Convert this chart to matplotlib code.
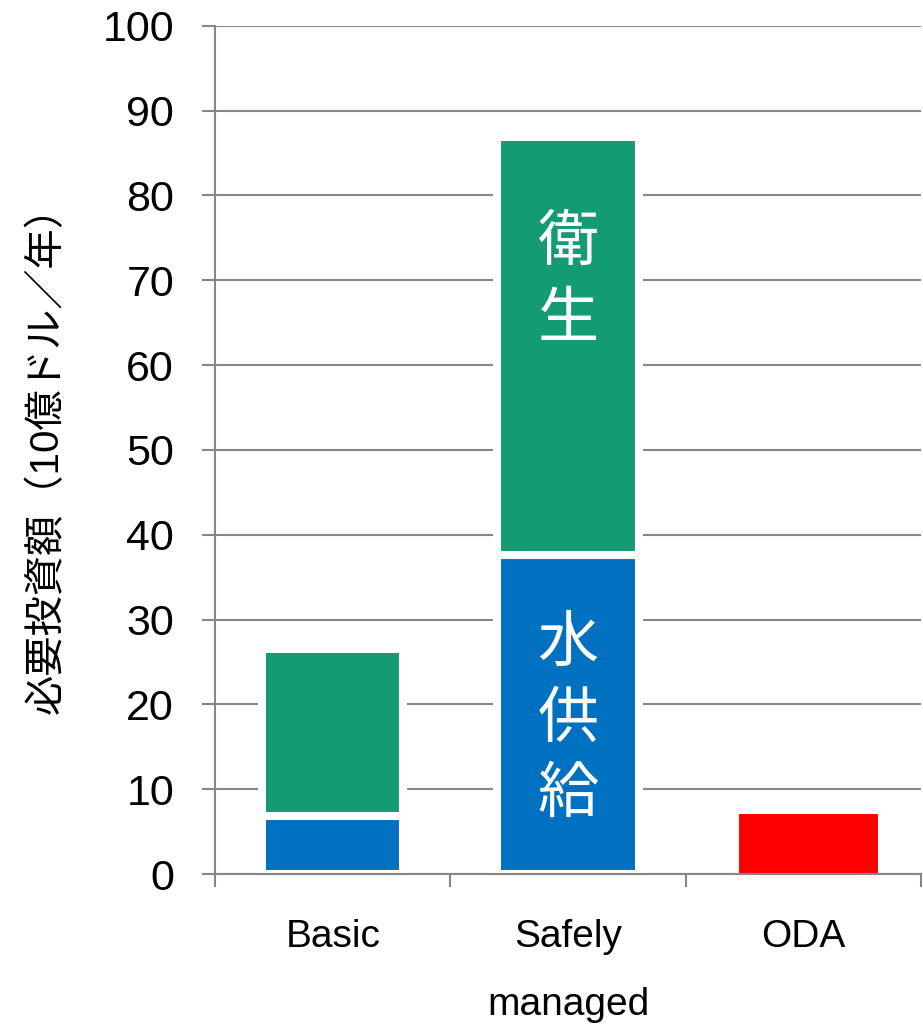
import matplotlib
matplotlib.use("Agg")
import matplotlib.pyplot as plt
import numpy as np

plt.rcParams['font.family'] = ['Liberation Sans', 'Noto Sans CJK JP', 'DejaVu Sans']

# データ（10億ドル／年）
categories = ["Basic", "Safely\nmanaged", "ODA"]
water = [6.9, 37.6, 0.0]        # 水供給
sanitation = [19.6, 49.3, 0.0]  # 衛生
oda = [0.0, 0.0, 7.2]

green = "#139B74"
blue = "#0070C0"
red = "#FF0000"
gray = "#868686"

fig = plt.figure(figsize=(9.23, 10.26), dpi=100)
ax = fig.add_axes([0.233, 0.148, 0.765, 0.827])

x = np.arange(len(categories))
w = 0.6
ax.bar(x[:2], water[:2], w, color=blue, edgecolor="white", linewidth=5.8, zorder=3)
ax.bar(x[:2], sanitation[:2], w, bottom=water[:2], color=green,
       edgecolor="white", linewidth=5.8, zorder=3)
ax.bar(x[2] + 0.02, oda[2], w, color=red, edgecolor="white", linewidth=1.5, zorder=3)

# 棒の中のラベル
ax.text(x[1], water[1] + sanitation[1] * 0.65, "衛\n生", color="white",
        fontsize=44, ha="center", va="center", linespacing=1.45, zorder=4)
ax.text(x[1], water[1] * 0.48, "水\n供\n給", color="white",
        fontsize=44, ha="center", va="center", linespacing=1.42, zorder=4)

ax.set_xlim(-0.5, 2.5)
ax.set_ylim(0, 100)
ax.set_yticks(range(0, 101, 10))
ax.yaxis.grid(True, color=gray, linewidth=1.5, zorder=0)
ax.set_axisbelow(True)

ax.set_xticks(x)
ax.set_xticklabels(categories, fontsize=28, linespacing=2.15)
ax.set_xticks([-0.5, 0.5, 1.5, 2.5], minor=True)
ax.tick_params(axis="x", which="major", length=0, pad=32)
ax.tick_params(axis="x", which="minor", length=9, width=1.5, color=gray)
ax.tick_params(axis="y", length=9.5, width=1.5, color=gray, pad=20, labelsize=31)

for s in ["top", "right"]:
    ax.spines[s].set_visible(False)
for s in ["left", "bottom"]:
    ax.spines[s].set_color(gray)
    ax.spines[s].set_linewidth(1.5)
    ax.spines[s].set_zorder(5)

ax.set_ylabel("必要投資額（10億ドル／年）", fontsize=29, labelpad=26)

fig.savefig("out.png", dpi=100)
